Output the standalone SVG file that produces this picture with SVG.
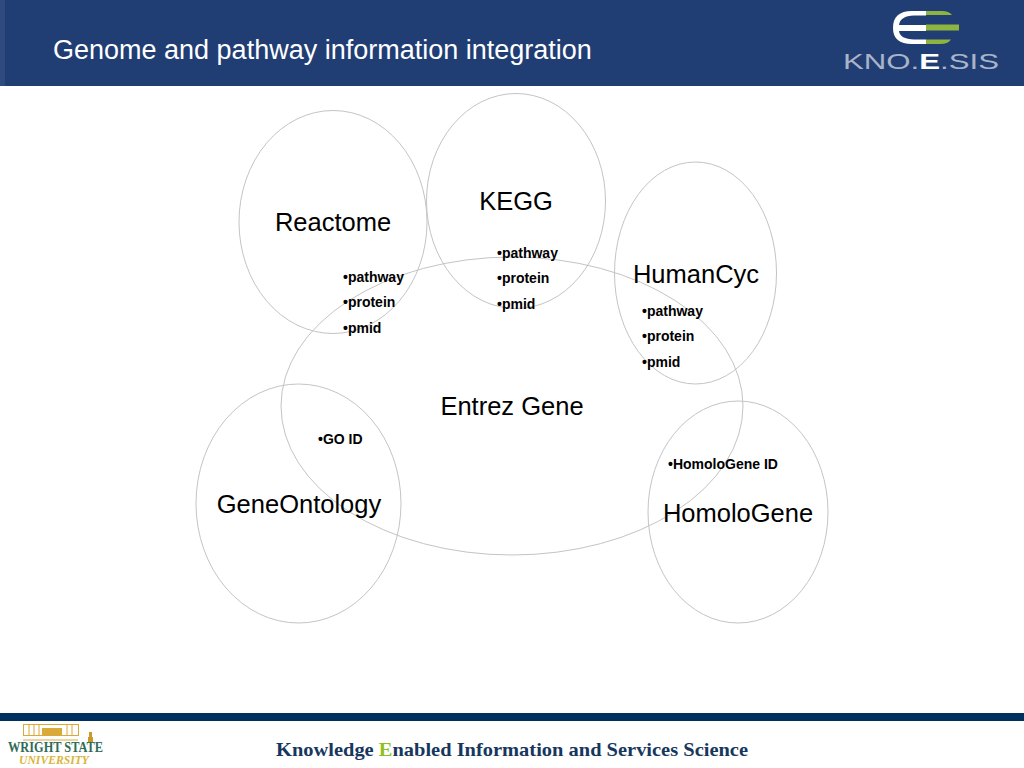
<svg xmlns="http://www.w3.org/2000/svg" width="1024" height="768" viewBox="0 0 1024 768">
<style>
.e{fill:none;stroke:#c4c4c4;stroke-width:1}
.l{font-family:"Liberation Sans",Arial,sans-serif;font-size:25.500px;fill:#000}
.b{font-family:"Liberation Sans",Arial,sans-serif;font-size:14px;font-weight:bold;fill:#000}
</style>
<rect width="1024" height="768" fill="#fff"/>
<g id="header">
<rect width="1024" height="86" fill="#213e74"/>
<rect width="5" height="86" fill="#2e4a7e"/>
<text x="53" y="59" font-family="'Liberation Sans',Arial,sans-serif" font-size="27px" fill="#fff">Genome and pathway information integration</text>
</g>
<g id="knoesis-logo">
<path d="M926 11H912Q893 11 893 28Q893 44 912 44H926V39.500H914Q900 39 899 31H926V25H899Q900 16 914 15.500H926Z" fill="#fff"/>
<path d="M926 11H942Q949 11 952 15H926ZM926 24.500H959V30.500H926ZM926 39.500H951Q948 44 940 44H926Z" fill="#8db43e"/>
<text x="843" y="69" font-family="'Liberation Sans',Arial,sans-serif" font-size="22px" fill="#a9b4c8" textLength="156" lengthAdjust="spacingAndGlyphs">KNO.<tspan fill="#fff" font-weight="bold">E</tspan>.SIS</text>
</g>
<g id="connectors"></g>
<g id="entrez"><ellipse class="e" cx="512" cy="406" rx="231" ry="149"/>
<text class="l" x="512" y="415" text-anchor="middle">Entrez Gene</text></g>
<g id="reactome"><ellipse class="e" cx="333" cy="222" rx="94" ry="111.500"/>
<text class="l" x="333" y="231" text-anchor="middle">Reactome</text>
<text class="b" x="343" y="282">•pathway</text><text class="b" x="343" y="307">•protein</text><text class="b" x="343" y="333">•pmid</text></g>
<g id="kegg"><ellipse class="e" cx="516" cy="201" rx="89.500" ry="107.500"/>
<text class="l" x="516" y="210" text-anchor="middle">KEGG</text>
<text class="b" x="497" y="258">•pathway</text><text class="b" x="497" y="283">•protein</text><text class="b" x="497" y="309">•pmid</text></g>
<g id="humancyc"><ellipse class="e" cx="695.500" cy="273" rx="81" ry="111"/>
<text class="l" x="696" y="283" text-anchor="middle">HumanCyc</text>
<text class="b" x="642" y="316">•pathway</text><text class="b" x="642" y="341">•protein</text><text class="b" x="642" y="367">•pmid</text></g>
<g id="geneontology"><ellipse class="e" cx="298.500" cy="503.500" rx="102.500" ry="119.500"/>
<text class="l" x="299" y="513" text-anchor="middle">GeneOntology</text>
<text class="b" x="318" y="444">•GO ID</text></g>
<g id="homologene"><ellipse class="e" cx="738" cy="512" rx="90" ry="111"/>
<text class="l" x="738" y="522" text-anchor="middle">HomoloGene</text>
<text class="b" x="668" y="469">•HomoloGene ID</text></g>
<g id="footer">
<rect y="713" width="1024" height="8" fill="#00305f"/>
<text x="276" y="756" font-family="'Liberation Serif',serif" font-size="19px" font-weight="bold" fill="#17375e" textLength="472" lengthAdjust="spacingAndGlyphs">Knowledge <tspan fill="#8fbf1f">E</tspan>nabled Information and Services Science</text>
</g>
<g id="wsu-logo">
<g fill="none" stroke="#d9a93a" stroke-width="1">
<rect x="23.500" y="724.500" width="55" height="11"/>
<path d="M29 725V735M34 725V735M39 725V735M67 725V735M72 725V735M23 740H78"/>
</g>
<path d="M42 728H62V735H42Z" fill="#d9a93a"/>
<path d="M89 732h3v5h1v5h-5v-5h1z" fill="#c9992a"/>
<text x="8" y="752" font-family="'Liberation Serif',serif" font-size="14px" font-weight="bold" fill="#2f6b57" textLength="95" lengthAdjust="spacingAndGlyphs">WRIGHT STATE</text>
<text x="19" y="764" font-family="'Liberation Serif',serif" font-size="11.500px" font-style="italic" font-weight="bold" fill="#d9b43a" textLength="70" lengthAdjust="spacingAndGlyphs">UNIVERSITY</text>
</g>
</svg>
